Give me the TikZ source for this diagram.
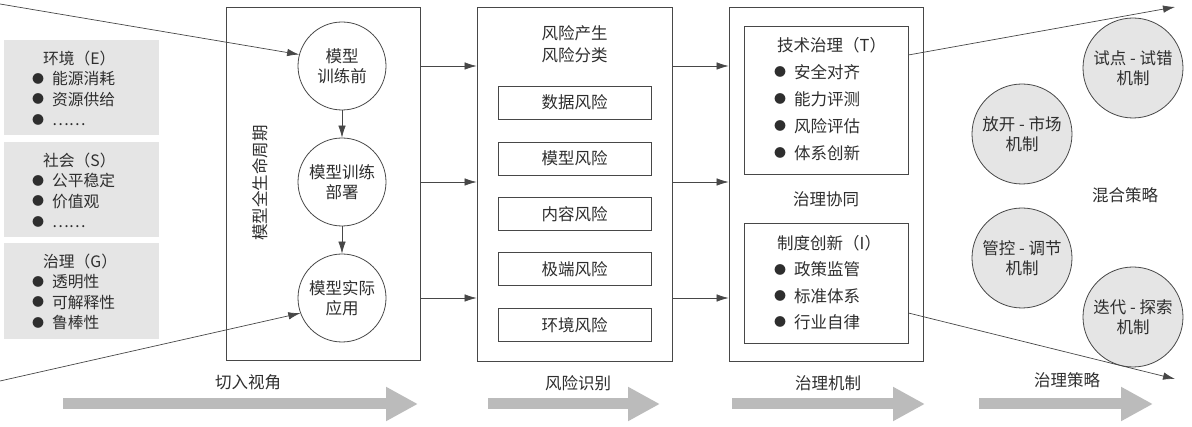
\documentclass[tikz,border=0pt]{standalone}
\usepackage{fontspec}
\setmainfont{Noto Sans CJK SC}
\usetikzlibrary{arrows.meta}

\definecolor{txtgray}{HTML}{2E2E2E}
\definecolor{linegray}{HTML}{474747}
\definecolor{panelgray}{HTML}{E5E5E5}
\definecolor{bandgray}{HTML}{BBBBBB}
\newcommand{\bul}{\makebox[20pt][l]{\raisebox{1.6pt}{\fontsize{12}{12}\selectfont ●}}}

\tikzset{
	every node/.style={font=\fontsize{16.5}{20.5}\selectfont, text=txtgray},
	frame/.style={draw=linegray, line width=0.8pt, rectangle, inner sep=0pt},
	riskbox/.style={frame, minimum width=153, minimum height=33},
	panel/.style={fill=panelgray, rectangle, inner sep=0pt, minimum width=155},
	paneltxt/.style={anchor=west, align=left, inner sep=0pt, font=\fontsize{15.75}{20.4}\selectfont},
	stage/.style={draw=linegray, line width=0.8pt, circle, minimum size=88, inner sep=0pt, align=center, font=\fontsize{16.5}{20}\selectfont},
	mode/.style={stage, fill=panelgray, minimum size=100},
	flow/.style={draw=linegray, line width=0.7pt, -{Latex[length=12pt,width=7.5pt]}},
	band/.style={draw=bandgray, line width=11pt, -{Triangle[length=32pt 0 0,width=32pt 0 0]}},
}

\begin{document}
\begin{tikzpicture}[x=1pt,y=1pt,yscale=-1,xscale=1]
		\useasboundingbox (0,0) rectangle (1192,427);
		% left panels
		\draw (81.5,87.5) node [panel, minimum height=95] (env) {};
		\draw (81.5,189.5) node [panel, minimum height=95] (soc) {};
		\draw (81.5,291) node [panel, minimum height=96] (gov) {};
		\draw (32,88.5) node [paneltxt] (envtxt) {\hspace*{11pt}环境（E）\\\bul 能源消耗\\\bul 资源供给\\\bul ……};
		\draw (32,190.5) node [paneltxt] (soctxt) {\hspace*{11pt}社会（S）\\\bul 公平稳定\\\bul 价值观\\\bul ……};
		\draw (32,292) node [paneltxt] (govtxt) {\hspace*{11pt}治理（G）\\\bul 透明性\\\bul 可解释性\\\bul 鲁棒性};
		% lifecycle
		\draw (323,183.5) node [frame, minimum width=194, minimum height=353] (life) {};
		\draw (342,66) node [stage] (c1) {模型\\训练前};
		\draw (342,182) node [stage] (c2) {模型训练\\部署};
		\draw (342,298) node [stage] (c3) {模型实际\\应用};
		\draw (260,183) node [rotate=90] (lifelbl) {模型全生命周期};
		\draw [flow] (c1) -- (c2);
		\draw [flow] (c2) -- (c3);
		\coordinate (inA) at (0,4);
		\coordinate (inB) at (0,381);
		\draw [flow] (inA) -- (c1.165);
		\draw [flow] (inB) -- (c3.200);
		% risks
		\draw (574.5,184) node [frame, minimum width=195, minimum height=354] (risk) {};
		\draw (574.5,44) node [align=center, font=\fontsize{16.5}{21.5}\selectfont] (risktitle) {风险产生\\风险分类};
		\draw (574.5,102.5) node [riskbox] (r1) {数据风险};
		\draw (574.5,158.5) node [riskbox] (r2) {模型风险};
		\draw (574.5,214) node [riskbox] (r3) {内容风险};
		\draw (574.5,269) node [riskbox] (r4) {极端风险};
		\draw (574.5,325) node [riskbox] (r5) {环境风险};
		\draw [flow] (life.east |- c1) -- (risk.west |- c1);
		\draw [flow] (life.east |- c2) -- (risk.west |- c2);
		\draw [flow] (life.east |- c3) -- (risk.west |- c3);
		% mechanisms
		\draw (826,184) node [frame, minimum width=194, minimum height=354] (mech) {};
		\draw (826,100) node [frame, minimum width=164, minimum height=148] (tech) {};
		\draw (826,283) node [frame, minimum width=164, minimum height=120] (inst) {};
		\draw (774,99) node [anchor=west, align=left, inner sep=0pt, font=\fontsize{16.5}{27}\selectfont] (techtxt) {\hspace*{3pt}技术治理（T）\\\bul 安全对齐\\\bul 能力评测\\\bul 风险评估\\\bul 体系创新};
		\draw (774,282.5) node [anchor=west, align=left, inner sep=0pt, font=\fontsize{16.5}{26.3}\selectfont] (insttxt) {\hspace*{3pt}制度创新（I）\\\bul 政策监管\\\bul 标准体系\\\bul 行业自律};
		\draw (826,199) node (synergy) {治理协同};
		\draw [flow] (risk.east |- c1) -- (mech.west |- c1);
		\draw [flow] (risk.east |- c2) -- (mech.west |- c2);
		\draw [flow] (risk.east |- c3) -- (mech.west |- c3);
		% strategies
		\draw (1133,68) node [mode] (s1) {试点 - 试错\\机制};
		\draw (1022,134) node [mode] (s2) {放开 - 市场\\机制};
		\draw (1022,258) node [mode] (s3) {管控 - 调节\\机制};
		\draw (1133,317) node [mode] (s4) {迭代 - 探索\\机制};
		\draw (1125,195) node (mix) {混合策略};
		\coordinate (outA) at (1175,7);
		\coordinate (outB) at (1175,379);
		\draw [flow] (tech.east |- 0,55) -- (outA);
		\draw [flow] (inst.east |- 0,313) -- (outB);
		% bottom labels and bands
		\draw (248,382) node (lbl1) {切入视角};
		\draw (578,383) node (lbl2) {风险识别};
		\draw (828,383) node (lbl3) {治理机制};
		\draw (1067,380) node (lbl4) {治理策略};
		\draw [band] (63,404) -- (418,404);
		\draw [band] (488,404) -- (660,404);
		\draw [band] (732,404) -- (925,404);
		\draw [band] (979,404) -- (1153,404);
\end{tikzpicture}
\end{document}
